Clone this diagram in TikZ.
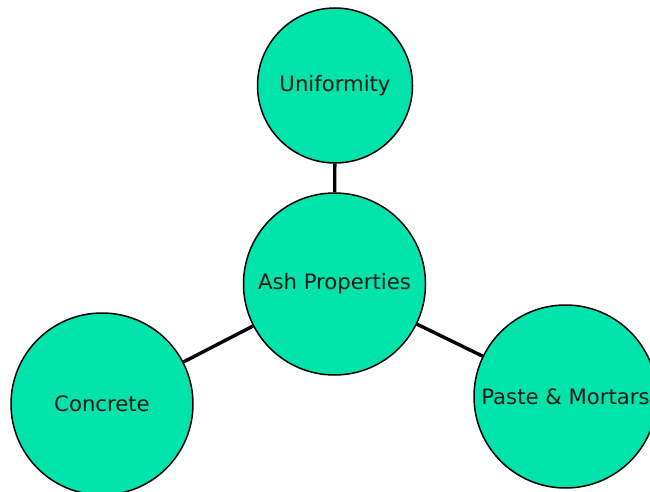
\documentclass[tikz,border=0pt]{standalone}
\usepackage{fontspec}
\setmainfont{DejaVu Sans}
\definecolor{mint}{RGB}{0,227,170}
\begin{document}
\begin{tikzpicture}[x=1pt,y=-1pt,
  bubble/.style={circle,draw=black,line width=1.5pt,fill=mint,inner sep=0pt,
    font=\fontsize{21.2}{24}\selectfont,text=black!90},
  link/.style={line width=3.4pt,black}]
\useasboundingbox (0,0) rectangle (650,492);
\node[bubble,minimum size=155pt] (uni) at (335,85.5) {\raisebox{-1.5pt}{Uniformity}};
\node[bubble,minimum size=182pt] (ash) at (334.5,284) {\raisebox{-1.5pt}{Ash Properties}};
\node[bubble,minimum size=182pt] (con) at (102,404) {\raisebox{-1.5pt}{Concrete}};
\node[bubble,minimum size=183pt] (pas) at (565.5,396.5) {\raisebox{-1.5pt}{Paste \& Mortars}};
\draw[link] (uni) -- (ash);
\draw[link] (ash) -- (con);
\draw[link] (ash) -- (pas);
\end{tikzpicture}
\end{document}
